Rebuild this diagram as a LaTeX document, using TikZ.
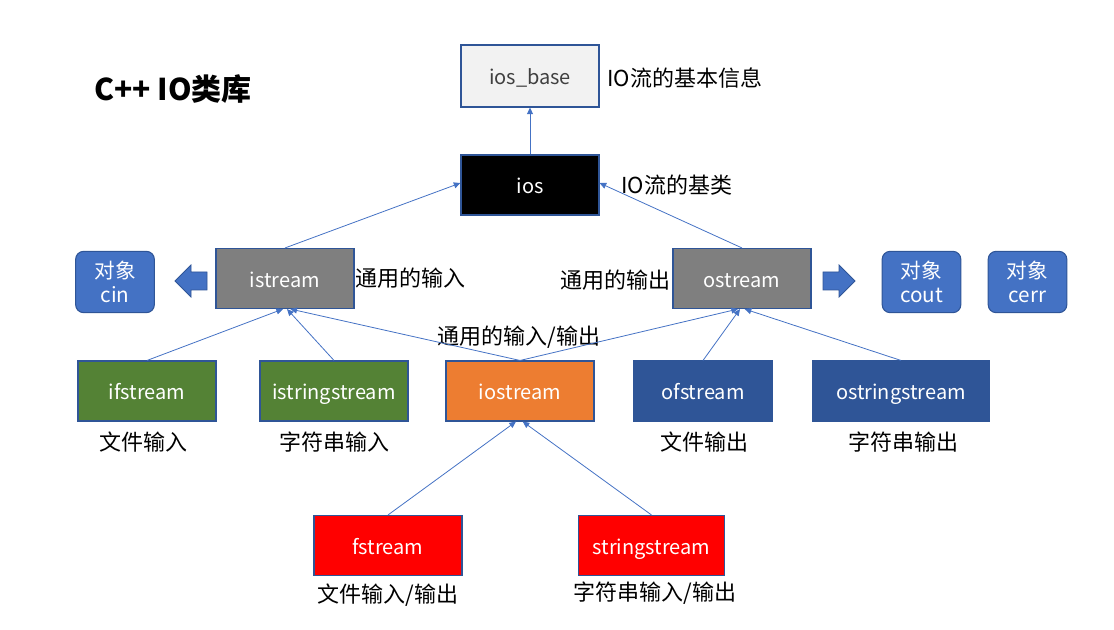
\documentclass[tikz,border=0pt]{standalone}
\usepackage{fontspec}
\setmainfont{Noto Sans CJK SC}
\newfontfamily\cjk{Noto Sans CJK SC}
\usetikzlibrary{arrows.meta}
\definecolor{lineblue}{HTML}{4472C4}
\definecolor{edgeblue}{HTML}{2F5597}
\definecolor{boxgray}{HTML}{7F7F7F}
\definecolor{boxgreen}{HTML}{548235}
\definecolor{boxorange}{HTML}{ED7D31}
\definecolor{boxnavy}{HTML}{2F5597}
\definecolor{boxred}{HTML}{FF0000}
\definecolor{lightfill}{HTML}{F2F2F2}
\begin{document}
\begin{tikzpicture}[x=0.75pt,y=-0.75pt,
  cls/.style={draw=edgeblue,line width=0.8pt,minimum height=45pt,inner sep=0pt,text height=13pt,text depth=0pt,text=white,font=\cjk\fontsize{15}{17}\selectfont},
  obj/.style={draw=edgeblue,line width=0.8pt,rounded corners=6pt,fill=lineblue,text=white,minimum width=59pt,minimum height=46pt,inner sep=0pt,align=center,font=\cjk\fontsize{15.5}{18}\selectfont},
  lbl/.style={inner sep=0pt,font=\cjk\fontsize{16.5}{18}\selectfont,text=black},
  link/.style={draw=lineblue,line width=0.6pt,-{Triangle[length=5pt,width=4.5pt]}},
  barrow/.style={fill=lineblue,draw=edgeblue,line width=0.6pt}
]
\useasboundingbox (0,0) rectangle (1114,630);
% title
\node[inner sep=0pt,font=\cjk\bfseries\fontsize{22.5}{24}\selectfont,anchor=west] (title) at (94,89) {C++ IO类库};
% class boxes
\node[cls,fill=lightfill,text=black!75,minimum width=103.5pt,minimum height=46.5pt] (iosbase) at (530,76) {ios\_base};
\node[cls,fill=black,minimum width=103.5pt] (ios) at (530,185) {ios};
\node[cls,fill=boxgray,minimum width=103.5pt] (istream) at (285,278.5) {istream};
\node[cls,fill=boxgray,minimum width=103.5pt] (ostream) at (742,278.5) {ostream};
\node[cls,fill=boxgreen,minimum width=103.5pt] (ifstream) at (147,391) {ifstream};
\node[cls,fill=boxgreen,minimum width=111pt] (istringstream) at (334,391) {istringstream};
\node[cls,fill=boxorange,minimum width=111pt] (iostream) at (520,391) {iostream};
\node[cls,fill=boxnavy,minimum width=103.5pt] (ofstream) at (703,391) {ofstream};
\node[cls,fill=boxnavy,minimum width=132pt] (ostringstream) at (901,391) {ostringstream};
\node[cls,fill=boxred,minimum width=111pt] (fstream) at (388,545.5) {fstream};
\node[cls,fill=boxred,minimum width=110pt] (stringstream) at (651.5,545.5) {stringstream};
% objects
\node[obj] (cin) at (115,282) {对象\\cin};
\node[obj] (cout) at (921.5,282) {对象\\cout};
\node[obj] (cerr) at (1027.5,282) {对象\\cerr};
% block arrows
\draw[barrow] (175,281) -- (191,265) -- (191,272) -- (207,272) -- (207,290) -- (191,290) -- (191,297) -- cycle;
\draw[barrow] (855,281) -- (839,265) -- (839,272) -- (823,272) -- (823,290) -- (839,290) -- (839,297) -- cycle;
% labels
\node[lbl,anchor=west] (l1) at (607,78) {IO流的基本信息};
\node[lbl,anchor=west] (l2) at (621,185) {IO流的基类};
\node[lbl,anchor=west] (l3) at (355,278) {通用的输入};
\node[lbl,anchor=east] (l4) at (671,280) {通用的输出};
\node[lbl] (l5) at (519,337) {通用的输入/输出};
\node[lbl] (l6) at (143,442) {文件输入};
\node[lbl] (l7) at (334,442) {字符串输入};
\node[lbl] (l8) at (704,442) {文件输出};
\node[lbl] (l9) at (903,442) {字符串输出};
\node[lbl] (l10) at (388,595) {文件输入/输出};
\node[lbl] (l11) at (655,593) {字符串输入/输出};
% connectors
\draw[link] (ios.north) -- (iosbase.south);
\draw[link] (istream.north) -- ([yshift=1.5]ios.west);
\draw[link] (ostream.north) -- ([yshift=1.5]ios.east);
\draw[link] (ifstream.north) -- ([xshift=-1.5]istream.south);
\draw[link] (istringstream.north) -- ([xshift=1.5]istream.south);
\draw[link] (iostream.north) -- ([xshift=4]istream.south);
\draw[link] (iostream.north) -- ([xshift=-3]ostream.south);
\draw[link] (ofstream.north) -- ([xshift=-1.5]ostream.south);
\draw[link] (ostringstream.north) -- ([xshift=2]ostream.south);
\draw[link] (fstream.north) -- ([xshift=-3]iostream.south);
\draw[link] (stringstream.north) -- ([xshift=2]iostream.south);
\end{tikzpicture}
\end{document}
